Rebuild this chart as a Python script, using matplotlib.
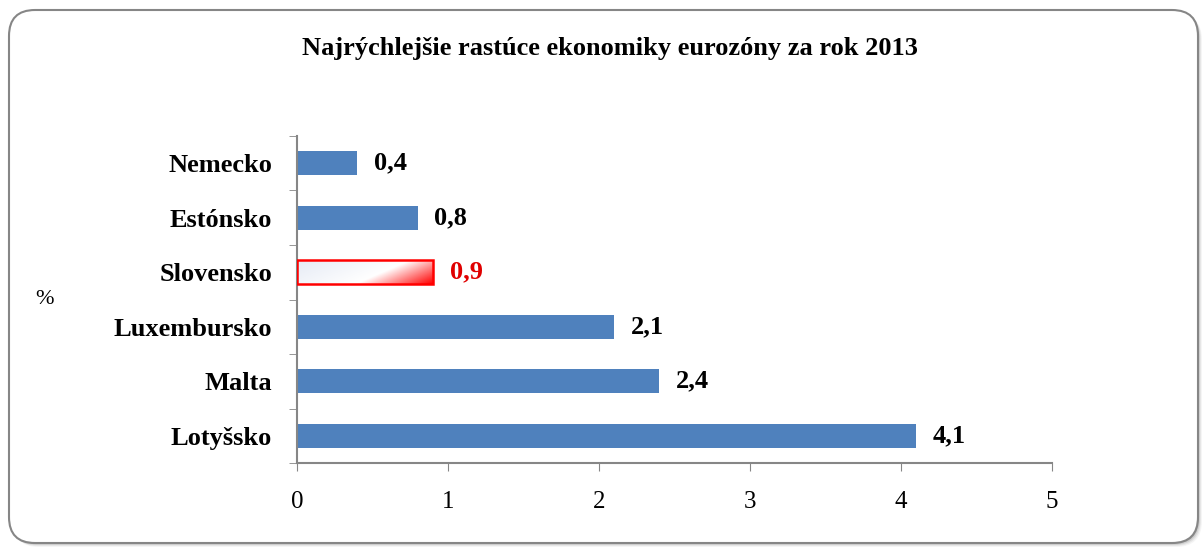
import numpy as np
import matplotlib.pyplot as plt
from matplotlib.patches import FancyBboxPatch, Rectangle

countries = ['Lotyšsko', 'Malta', 'Luxembursko', 'Slovensko', 'Estónsko', 'Nemecko']
growth = [4.1, 2.4, 2.1, 0.9, 0.8, 0.4]
labels = ['4,1', '2,4', '2,1', '0,9', '0,8', '0,4']
highlight = 'Slovensko'

plt.rcParams['font.family'] = ['Liberation Serif', 'DejaVu Serif']

fig = plt.figure(figsize=(12.04, 5.5), dpi=100)

# background axes in pixel units for the rounded frame + shadow
bg = fig.add_axes([0, 0, 1, 1])
bg.set_xlim(0, 1204)
bg.set_ylim(550, 0)
bg.axis('off')
bg.set_zorder(-1)
for i, a in enumerate([0.04, 0.06, 0.09, 0.13]):
    off = 4 - i
    bg.add_patch(FancyBboxPatch((9 + off, 10 + off), 1189, 533,
                                boxstyle='round,pad=0,rounding_size=26',
                                fc=(0, 0, 0, a), ec='none'))
bg.add_patch(FancyBboxPatch((9, 10), 1189, 533,
                            boxstyle='round,pad=0,rounding_size=26',
                            fc='white', ec='#868686', lw=1.5))

ax = fig.add_axes([297 / 1204, 1 - 463 / 550, 755 / 1204, 327 / 550])
ax.set_facecolor('none')

y = np.arange(len(countries))
colors = ['none' if c == highlight else '#4f81bd' for c in countries]
bars = ax.barh(y, growth, height=0.44, color=colors, zorder=2)

# gradient fill for the highlighted bar
for b, c in zip(bars, countries):
    if c != highlight:
        continue
    x0, y0, w, h = b.get_x(), b.get_y(), b.get_width(), b.get_height()
    gx, gy = np.meshgrid(np.linspace(0, 1, 200), np.linspace(0, 1, 50))
    t = np.clip((gx * 1.5 + (1 - gy) * 0.6 - 1.25) / 0.85, 0, 1)
    start = np.array([0.90, 0.92, 0.96])
    mid = np.array([1.0, 1.0, 1.0])
    end = np.array([1.0, 0.0, 0.0])
    s = np.clip((gx * 1.5 + (1 - gy) * 0.6) / 1.25, 0, 1)
    img = np.empty(gx.shape + (3,))
    for k in range(3):
        base = start[k] + (mid[k] - start[k]) * s
        img[..., k] = base + (end[k] - base) * t
    ax.imshow(img, extent=(x0, x0 + w, y0, y0 + h), origin='lower',
              aspect='auto', zorder=2)
    ax.add_patch(Rectangle((x0, y0), w, h, fc='none', ec='red', lw=1.8, zorder=3))

for yi, v, lab, c in zip(y, growth, labels, countries):
    ax.text(v + 0.11, yi, lab, va='center', ha='left', fontsize=19, fontweight='bold',
            color='#e00000' if c == highlight else 'black')

ax.set_xlim(0, 5)
ax.set_ylim(-0.5, len(countries) - 0.5)
ax.set_xticks(range(6))
ax.tick_params(axis='x', labelsize=18, length=6, color='#868686', pad=14)
ax.set_yticks(y)
ax.set_yticklabels(countries, fontsize=19, fontweight='bold')
ax.set_yticks(np.arange(-0.5, len(countries)), minor=True)
ax.tick_params(axis='y', which='major', length=0, pad=18)
ax.tick_params(axis='y', which='minor', length=6, color='#868686')
for s in ['top', 'right']:
    ax.spines[s].set_visible(False)
for s in ['left', 'bottom']:
    ax.spines[s].set_color('#868686')
    ax.spines[s].set_linewidth(1.5)

fig.text(45 / 1204, 1 - 300 / 550, '%', fontsize=16, ha='center', va='center')
fig.text(0.507, 1 - 49 / 550, 'Najrýchlejšie rastúce ekonomiky eurozóny za rok 2013',
         fontsize=19, fontweight='bold', ha='center', va='center')

fig.savefig('out.png', dpi=100)
